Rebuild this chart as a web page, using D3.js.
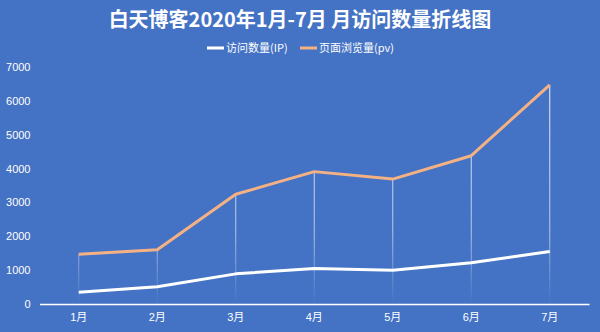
<!DOCTYPE html>
<html>
<head>
<meta charset="utf-8">
<script src="https://cdn.jsdelivr.net/npm/d3@7"></script>
<style>
  html, body { margin: 0; padding: 0; background: #4472C4; }
  svg { display: block; font-family: "Noto Sans CJK SC", "Noto Sans", sans-serif; }
</style>
</head>
<body>
<svg id="chart" width="600" height="332"></svg>
<script>
// Monthly visits (IP) and page views (pv), Jan–Jul 2020
const months = ["1月", "2月", "3月", "4月", "5月", "6月", "7月"];
const visitsIP = [350, 510, 890, 1050, 1000, 1220, 1550];
const pageViews = [1470, 1600, 3240, 3910, 3690, 4380, 6470];
const yTicks = [0, 1000, 2000, 3000, 4000, 5000, 6000, 7000];

const seriesNames = ["访问数量(IP)", "页面浏览量(pv)"];
const seriesColors = ["#FFFFFF", "#F4B183"];

const svg = d3.select("#chart");
const W = 600, H = 332;
const margin = { left: 39.5, right: 11, top: 67, bottom: 28 };

svg.append("rect").attr("width", W).attr("height", H).attr("fill", "#4472C4");

const x = d3.scaleBand().domain(months).range([margin.left, W - margin.right]);
const y = d3.scaleLinear().domain([0, 7000]).range([H - margin.bottom, margin.top]);

// Title
svg.append("text")
  .attr("x", W / 2).attr("y", 27)
  .attr("text-anchor", "middle")
  .attr("fill", "#fff")
  .attr("font-size", 20)
  .attr("font-weight", "bold")
  .text("白天博客2020年1月-7月 月访问数量折线图");

// Legend
const legendItems = [
  { name: seriesNames[0], color: seriesColors[0], x: 207 },
  { name: seriesNames[1], color: seriesColors[1], x: 300 }
];
const lg = svg.append("g");
legendItems.forEach(d => {
  lg.append("line")
    .attr("x1", d.x).attr("x2", d.x + 17)
    .attr("y1", 48).attr("y2", 48)
    .attr("stroke", d.color).attr("stroke-width", 3);
  lg.append("text")
    .attr("x", d.x + 19).attr("y", 52)
    .attr("fill", "#fff").attr("font-size", 11)
    .text(d.name);
});

// Gradient for the drop lines
const defs = svg.append("defs");
const grad = defs.append("linearGradient")
  .attr("id", "dropGrad")
  .attr("gradientUnits", "userSpaceOnUse")
  .attr("x1", 0).attr("x2", 0)
  .attr("y1", y(7000)).attr("y2", y(0));
grad.append("stop").attr("offset", "0%").attr("stop-color", "#fff").attr("stop-opacity", 0.95);
grad.append("stop").attr("offset", "70%").attr("stop-color", "#fff").attr("stop-opacity", 0.6);
grad.append("stop").attr("offset", "100%").attr("stop-color", "#fff").attr("stop-opacity", 0);

const cx = m => x(m) + x.bandwidth() / 2;

// Drop lines from the page-view series to the axis
svg.append("g").selectAll("line")
  .data(months)
  .join("line")
  .attr("x1", m => cx(m)).attr("x2", m => cx(m) + 0.01)
  .attr("y1", (m, i) => y(pageViews[i]))
  .attr("y2", y(0))
  .attr("stroke", "url(#dropGrad)")
  .attr("stroke-width", 1);

// Y axis labels
const yAxis = svg.append("g")
  .attr("transform", `translate(${margin.left - 9},0)`)
  .call(d3.axisLeft(y).tickValues(yTicks).tickSize(0).tickPadding(0).tickFormat(d3.format("d")));
yAxis.select(".domain").remove();
yAxis.selectAll("text").attr("fill", "#fff").attr("font-size", 11)
  .attr("font-family", "Liberation Sans, Arial, sans-serif");

// X axis
const xAxis = svg.append("g")
  .attr("transform", `translate(0,${y(0)})`)
  .call(d3.axisBottom(x).tickSize(0).tickPadding(9));
xAxis.select(".domain").attr("stroke", "#fff").attr("stroke-width", 1.5);
xAxis.selectAll("text").attr("fill", "#fff").attr("font-size", 11)
  .attr("font-family", "Liberation Sans, Noto Sans CJK SC, sans-serif");

// Lines
const line = d3.line().x((d, i) => cx(months[i])).y(d => y(d));
[pageViews, visitsIP].forEach((vals, k) => {
  svg.append("path")
    .datum(vals)
    .attr("d", line)
    .attr("fill", "none")
    .attr("stroke", k === 0 ? seriesColors[1] : seriesColors[0])
    .attr("stroke-width", 3)
    .attr("stroke-linejoin", "round");
});
</script>
</body>
</html>
